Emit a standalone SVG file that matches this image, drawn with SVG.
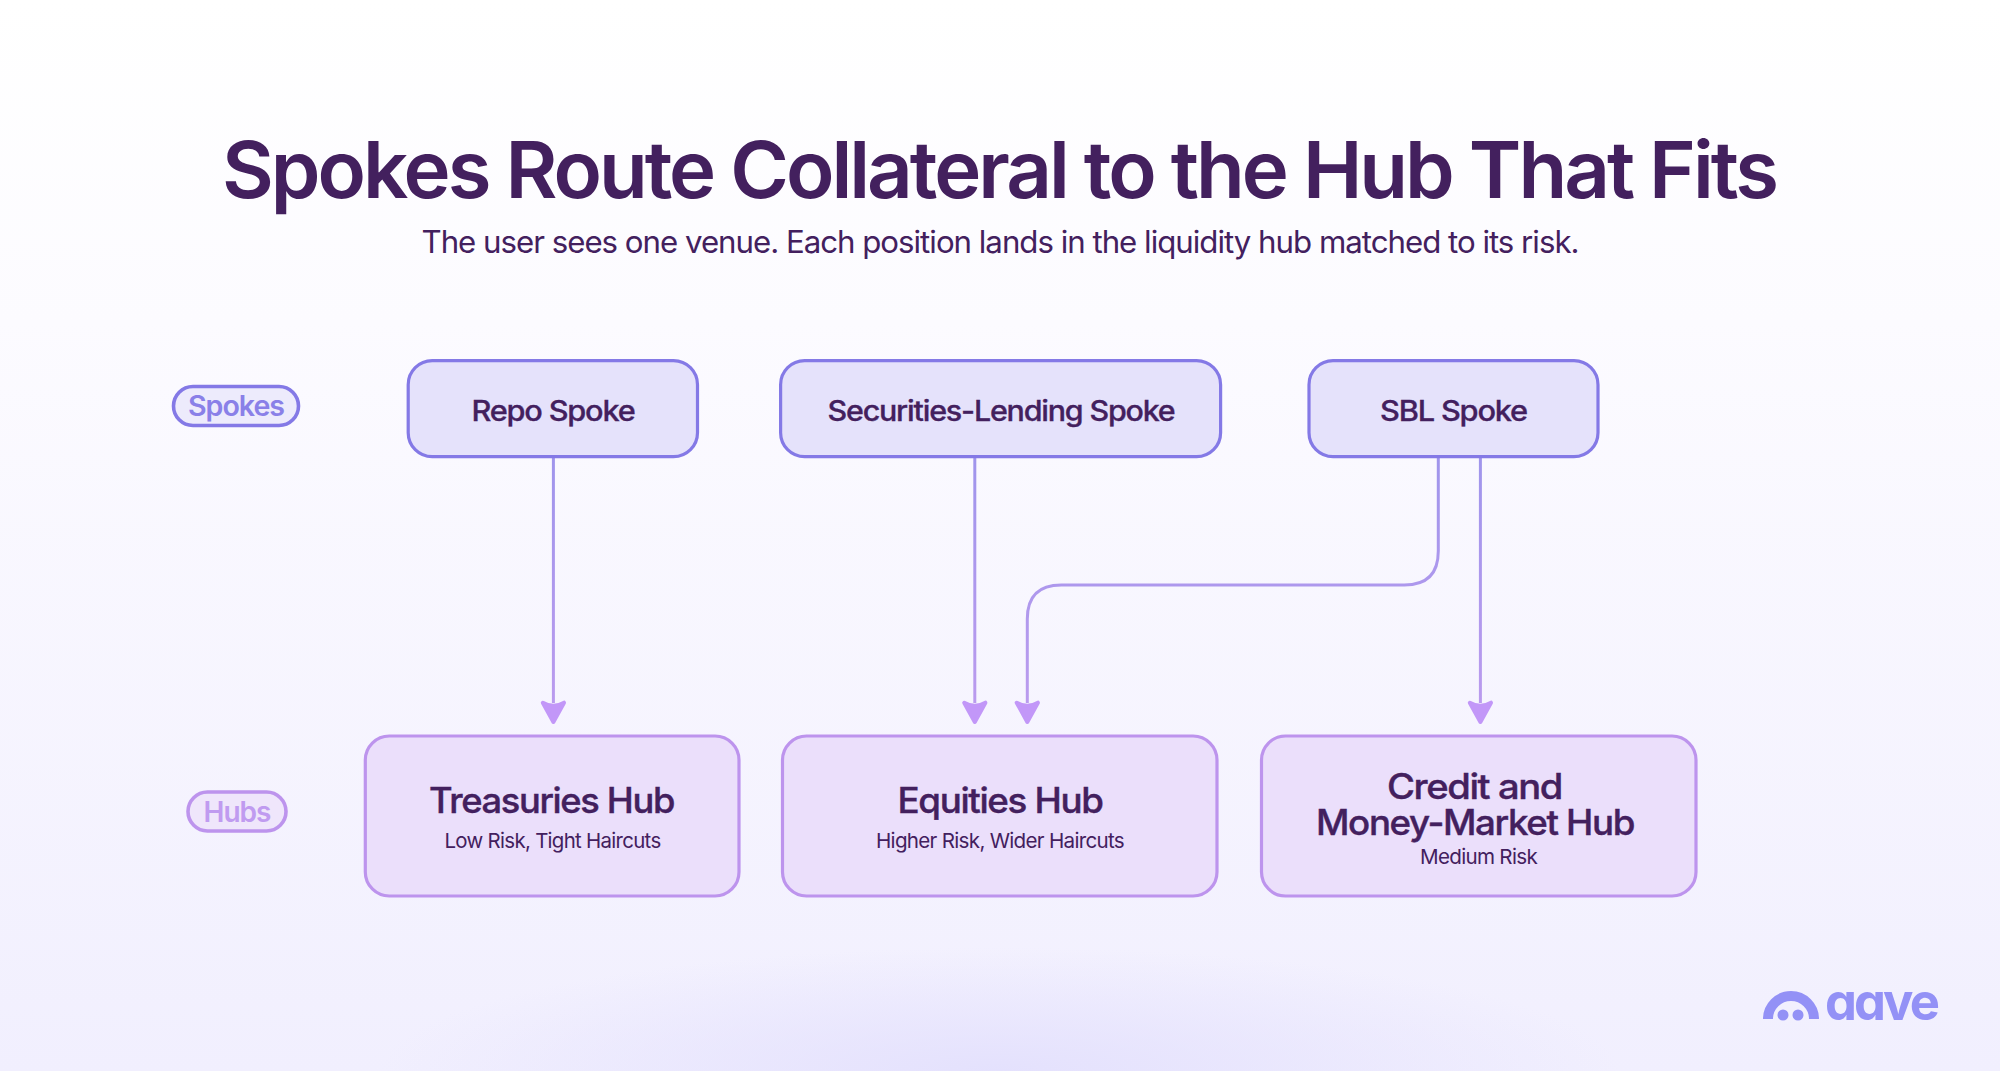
<svg xmlns="http://www.w3.org/2000/svg" width="2000" height="1071" viewBox="0 0 2000 1071">
<style>
text{font-family:"Inter","Liberation Sans",sans-serif;text-anchor:middle;fill:#43205e}
.spoke{fill:#e5e2fb;stroke:#8479e6;stroke-width:3.2}
.hub{fill:#ebdffb;stroke:#bd94ed;stroke-width:3.2}
.pill1{fill:#edebfc;stroke:#8479e6;stroke-width:3.6}
.pill2{fill:#efe6fb;stroke:#bd94ed;stroke-width:3.6}
.t1{font-size:28px;font-weight:500;letter-spacing:-1.1px;stroke:#43205e;stroke-width:.3}
.t2{font-size:35px;font-weight:500;letter-spacing:-1.3px;stroke:#43205e;stroke-width:.4}
.t3{font-size:20.5px;font-weight:400;letter-spacing:-.7px}
.conn{fill:none;stroke-width:3}
.head{fill:#c297f8;stroke:#c297f8;stroke-width:4;stroke-linejoin:round}
.logo{fill:#9391f6}
</style>
<defs>
<linearGradient id="bg" x1="0" y1="0" x2="0" y2="1"><stop offset="0" stop-color="#ffffff"/><stop offset=".3" stop-color="#fcfbff"/><stop offset="1" stop-color="#f1effe"/></linearGradient>
<radialGradient id="glow" gradientUnits="userSpaceOnUse" cx="1000" cy="1071" r="620" gradientTransform="translate(0 857) scale(1 .2)"><stop offset="0" stop-color="#e4e1fd"/><stop offset="1" stop-color="#e4e1fd" stop-opacity="0"/></radialGradient>
<linearGradient id="line" gradientUnits="userSpaceOnUse" x1="0" y1="457" x2="0" y2="710"><stop offset="0" stop-color="#a095ec"/><stop offset="1" stop-color="#bb9bee"/></linearGradient>
</defs>
<rect width="2000" height="1071" fill="url(#bg)"/>
<rect width="2000" height="1071" fill="url(#glow)"/>
<text id="title" x="999" y="198" font-size="79" font-weight="600" letter-spacing="-3" textLength="1554" lengthAdjust="spacingAndGlyphs">Spokes Route Collateral to the Hub That Fits</text>
<text id="subtitle" x="1000" y="253" font-size="31" font-weight="400" letter-spacing="-1" textLength="1157" lengthAdjust="spacingAndGlyphs">The user sees one venue. Each position lands in the liquidity hub matched to its risk.</text>
<g id="connectors">
<path class="conn" stroke="url(#line)" d="M553.4 457V703"/>
<path class="conn" stroke="url(#line)" d="M974.8 457V703"/>
<path class="conn" stroke="url(#line)" d="M1480.4 457V703"/>
<path class="conn" stroke="url(#line)" d="M1438.3 457V551Q1438.3 585 1404.3 585H1061.3Q1027.3 585 1027.3 619V703"/>
<path class="head" d="M542.8 702.7Q553.4 709 564 702.7L553.4 722Z"/>
<path class="head" d="M964.2 702.7Q974.8 709 985.4 702.7L974.8 722Z"/>
<path class="head" d="M1016.7 702.7Q1027.3 709 1037.9 702.7L1027.3 722Z"/>
<path class="head" d="M1469.8 702.7Q1480.4 709 1491 702.7L1480.4 722Z"/>
</g>
<g id="label-spokes"><rect class="pill1" x="173.5" y="386.5" width="125" height="39" rx="19.5"/><text x="236" y="416" font-size="28" font-weight="600" letter-spacing="-1" style="fill:#8a80e8" textLength="96" lengthAdjust="spacingAndGlyphs">Spokes</text></g>
<g id="label-hubs"><rect class="pill2" x="188" y="792" width="98" height="39" rx="19.5"/><text x="237" y="822" font-size="28" font-weight="600" letter-spacing="-1" style="fill:#c09bf0" textLength="67" lengthAdjust="spacingAndGlyphs">Hubs</text></g>
<g id="repo-spoke"><rect class="spoke" x="408.2" y="360.7" width="289.3" height="96" rx="24"/><text class="t1" x="553" y="420.5" textLength="163" lengthAdjust="spacingAndGlyphs">Repo Spoke</text></g>
<g id="sec-spoke"><rect class="spoke" x="780.6" y="360.7" width="440" height="96" rx="24"/><text class="t1" x="1001" y="420.5" textLength="347" lengthAdjust="spacingAndGlyphs">Securities-Lending Spoke</text></g>
<g id="sbl-spoke"><rect class="spoke" x="1309" y="360.7" width="289" height="96" rx="24"/><text class="t1" x="1453.5" y="420.5" textLength="147" lengthAdjust="spacingAndGlyphs">SBL Spoke</text></g>
<g id="treasuries-hub"><rect class="hub" x="365.3" y="736" width="373.7" height="160" rx="24"/><text class="t2" x="551.5" y="812.5" textLength="245" lengthAdjust="spacingAndGlyphs">Treasuries Hub</text><text class="t3" x="552.5" y="848" textLength="216" lengthAdjust="spacingAndGlyphs">Low Risk, Tight Haircuts</text></g>
<g id="equities-hub"><rect class="hub" x="782.5" y="736" width="434.5" height="160" rx="24"/><text class="t2" x="1000" y="812.5" textLength="205" lengthAdjust="spacingAndGlyphs">Equities Hub</text><text class="t3" x="1000" y="848" textLength="248" lengthAdjust="spacingAndGlyphs">Higher Risk, Wider Haircuts</text></g>
<g id="credit-hub"><rect class="hub" x="1261.5" y="736" width="434.5" height="160" rx="24"/><text class="t2" x="1474.5" y="798.5" textLength="175" lengthAdjust="spacingAndGlyphs">Credit and</text><text class="t2" x="1475" y="835" textLength="318" lengthAdjust="spacingAndGlyphs">Money-Market Hub</text><text class="t3" x="1478.5" y="864" textLength="117" lengthAdjust="spacingAndGlyphs">Medium Risk</text></g>
<g id="aave-logo">
<path d="M1768 1019A23 23 0 0 1 1814 1019" fill="none" stroke="#9391f6" stroke-width="10"/>
<circle class="logo" cx="1783" cy="1015" r="5.5"/><circle class="logo" cx="1798" cy="1015" r="5.5"/>
<text x="1881" y="1020" font-size="52" font-weight="700" letter-spacing="-3" textLength="112" lengthAdjust="spacingAndGlyphs" style="fill:#9391f6;font-feature-settings:'cv11'">aave</text>
</g>
</svg>
